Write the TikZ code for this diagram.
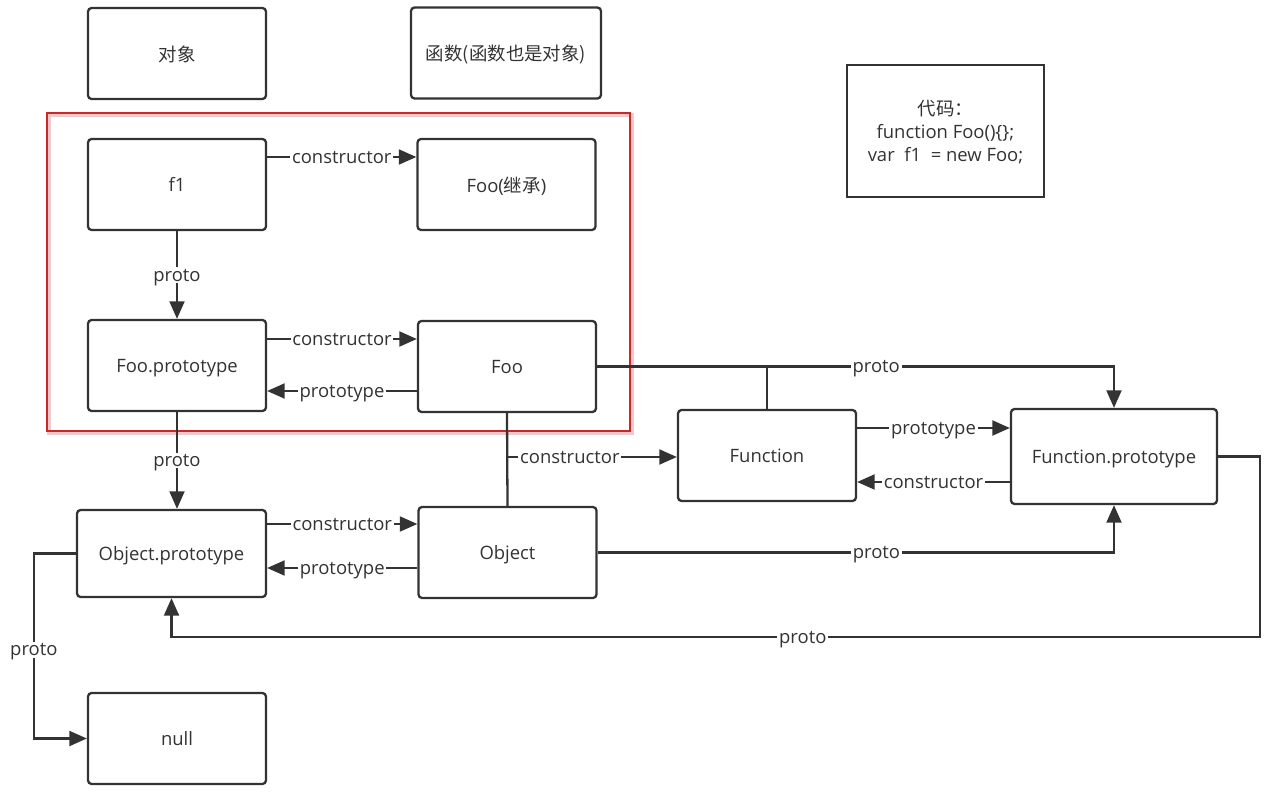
\documentclass[tikz,border=0pt]{standalone}
\usepackage{fontspec}
\setmainfont{Open Sans}
\newfontfamily\cjk{Noto Sans CJK SC}
\usetikzlibrary{arrows.meta}
\definecolor{ink}{HTML}{333333}
\definecolor{frame}{HTML}{C8282A}

\begin{document}
\begin{tikzpicture}[
    x=0.02cm, y=-0.02cm,
    box/.style={
        draw=ink,
        line width=1.3pt,
        rounded corners=2pt,
        minimum width=3.56cm,
        minimum height=1.82cm,
        text=ink,
        text depth=0pt,
        font=\fontsize{10.5}{12}\selectfont
    },
    link/.style={
        draw=ink,
        line width=1.3pt,
        -{Triangle[length=10pt,width=8.5pt]}
    },
    plain/.style={
        draw=ink,
        line width=1.3pt
    },
    lbl/.style={
        fill=white,
        inner sep=1pt,
        text=ink,
        text depth=0pt,
        font=\fontsize{10.5}{12}\selectfont
    }
]
\useasboundingbox (0,0) rectangle (1279,804);

% legend boxes on top
\node[box] (obj0) at (177,53.5) {\cjk 对象};
\node[box, minimum width=3.8cm] (fun0) at (506,53) {\cjk 函数(函数也是对象)};

% the code
\node[box, rounded corners=0pt, minimum width=3.94cm, minimum height=2.64cm,
      align=center, font=\fontsize{10.5}{13}\selectfont] (code) at (945.5,131)
    {{\cjk 代码：}\\function Foo()\{\};\\var\ \ f1\ \ = new Foo;};

% objects of the chain
\node[box] (f1)   at (177,184.5) {f1};
\node[box] (fooi) at (506.5,184.5) {Foo({\cjk 继承})};
\node[box] (foop) at (177,365.5) {Foo.prototype};
\node[box] (foo)  at (507,366.5) {Foo};
\node[box] (fn)   at (767,455.5) {Function};
\node[box, minimum width=4.12cm, minimum height=1.9cm] (fnp) at (1114,456.5) {Function.prototype};
\node[box, minimum width=3.78cm, minimum height=1.74cm] (objp) at (171.5,553.5) {Object.prototype};
\node[box] (obj)  at (507.5,552.5) {Object};
\node[box] (null) at (177,738.5) {null};

% red frame round the Foo part
\draw[frame!25, line width=2pt] (49,115) rectangle (632,433);
\draw[frame, line width=1.7pt] (47,113) rectangle (630,431);

\draw[link] (f1.east |- 0,157) -- node[lbl]{constructor} (fooi.west |- 0,157);
\draw[link] (f1) -- node[lbl]{proto} (foop);
\draw[link] (foop.east |- 0,339) -- node[lbl]{constructor} (foo.west |- 0,339);
\draw[link] (foo.west |- 0,391) -- node[lbl]{prototype} (foop.east |- 0,391);
\draw[link] (foop.south) -- node[lbl]{proto} (foop.south |- objp.north);

\draw[link] (foo.east) -| node[lbl, pos=0.27]{proto} (fnp.north);
\draw[plain] (fn.north) -- (fn.north |- foo.east);
\draw[plain] (foo.south) -- (obj.north);
\coordinate (junc) at (foo.south |- 0,457);
\draw[link] (junc) -- node[lbl, pos=0.37]{constructor} (fn.west |- junc);

\draw[link] (fn.east |- 0,428) -- node[lbl]{prototype} (fnp.west |- 0,428);
\draw[link] (fnp.west |- 0,482) -- node[lbl]{constructor} (fn.east |- 0,482);
\draw[link] (objp.east |- 0,524) -- node[lbl]{constructor} (obj.west |- 0,524);
\draw[link] (obj.west |- 0,568) -- node[lbl]{prototype} (objp.east |- 0,568);
\draw[link] (obj.east) -| node[lbl, pos=0.27]{proto} (fnp.south);

\coordinate (loop) at (1260,637);
\draw[link] (fnp.east) -| (loop) -| node[lbl, pos=0.21]{proto} (objp.south);
\draw[link] (objp.west) -- ++(-42,0) |- node[lbl, pos=0.26]{proto} (null.west);
\end{tikzpicture}
\end{document}
